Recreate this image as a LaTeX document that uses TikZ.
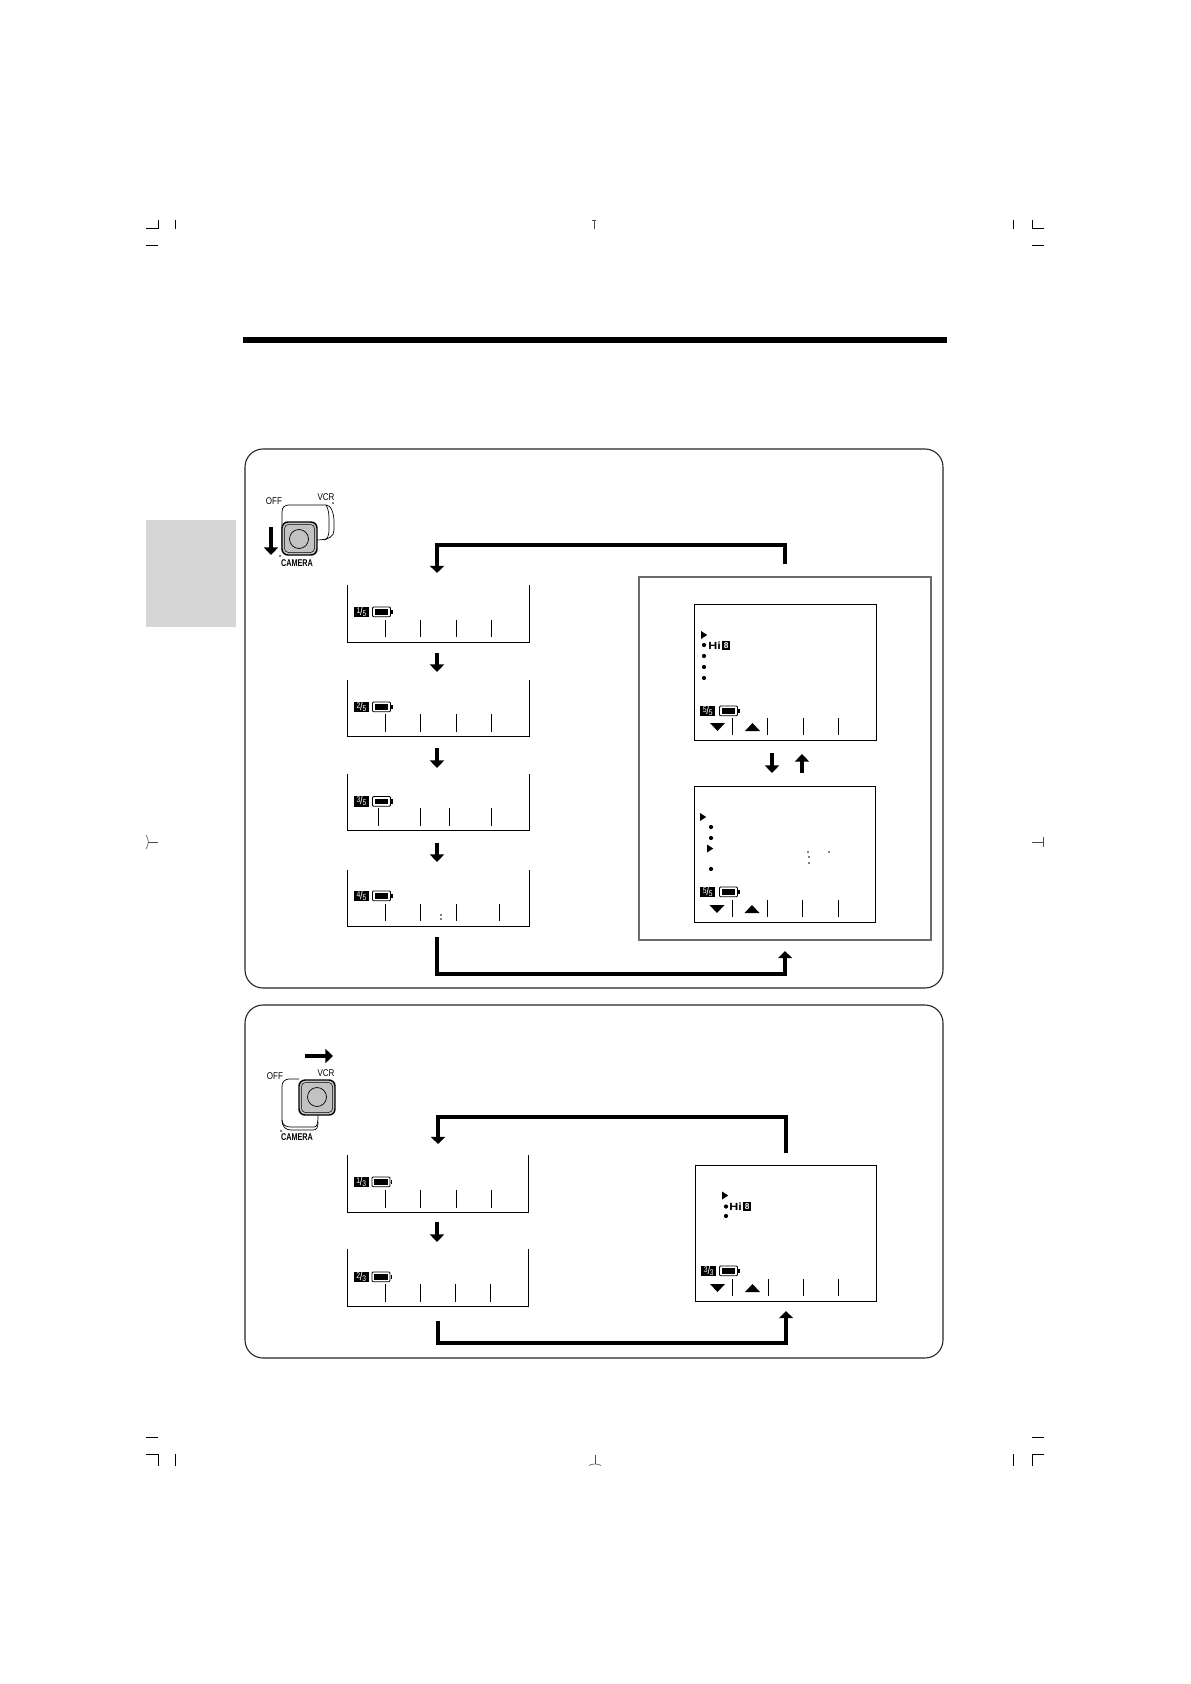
\documentclass[tikz,border=0pt]{standalone}
\usepackage{fontspec}
\usetikzlibrary{arrows.meta}
\setmainfont{Liberation Sans}
\newfontfamily\lab[FakeStretch=0.82]{Liberation Sans}
\newfontfamily\camf[FakeStretch=0.74]{Liberation Sans}
\newfontfamily\hif[FakeStretch=1.2]{Liberation Sans}
\definecolor{tabgray}{gray}{0.84}
\definecolor{btngray}{gray}{0.76}
\definecolor{framegray}{gray}{0.42}
\newcommand\frc[2]{\raisebox{0.8pt}{\fontsize{4.1}{4}\selectfont #1}\kern-0.1pt{\fontsize{6.2}{5}\selectfont/}\kern-0.2pt\raisebox{-0.7pt}{\fontsize{4.1}{4}\selectfont #2}}
\tikzset{
  flow/.style={line width=2.4pt,-{Triangle[length=3.8pt,width=7pt]}},
  routeline/.style={line width=2pt,miter limit=10,-{Triangle[length=3.6pt,width=7pt]}},
  scrline/.style={line width=0.5pt,line join=miter},
  tick/.style={line width=0.5pt},
  panel/.style={draw=black!85,line width=0.55pt,rounded corners=9pt,fill=white},
  crop/.style={line width=0.5pt},
  thincrop/.style={line width=0.3pt,draw=black!70},
  badgebox/.style={fill=black,text=white,inner sep=0pt,minimum width=7.4pt,minimum height=5.2pt,text height=3pt,text depth=0pt,font=\lab},
  swlabel/.style={inner sep=0pt,font=\lab\fontsize{4.9}{5}\selectfont},
  camlabel/.style={inner sep=0pt,font=\camf\bfseries\fontsize{4.9}{5}\selectfont},
  hitext/.style={inner sep=0pt,anchor=west,font=\hif\bfseries\fontsize{5.2}{5}\selectfont},
  eightbox/.style={fill=black,text=white,inner sep=0pt,minimum width=4.2pt,minimum height=4.4pt,font=\bfseries\fontsize{4.2}{4}\selectfont},
}
% open-topped LCD: name, left, top, right, bottom
\newcommand\opscreen[5]{%
  \coordinate (#1-tl) at (#2,#3); \coordinate (#1-bl) at (#2,#5);
  \coordinate (#1-br) at (#4,#5); \coordinate (#1-tr) at (#4,#3);
  \draw[scrline] (#1-tl) -- (#1-bl) -- (#1-br) -- (#1-tr);}
\newcommand\clscreen[5]{%
  \coordinate (#1-tl) at (#2,#3); \coordinate (#1-bl) at (#2,#5);
  \coordinate (#1-br) at (#4,#5); \coordinate (#1-tr) at (#4,#3);
  \draw[scrline] (#1-tl) -- (#1-bl) -- (#1-br) -- (#1-tr) -- cycle;}
\newcommand\ticks[3]{\foreach \tx in {#1} {\draw[tick] (\tx,#2) -- (\tx,#3);}}
% badge: name, left x, center y, numerator, denominator
\newcommand\badge[5]{\node[badgebox,anchor=west] (#1) at (#2,#3) {\frc{#4}{#5}};}
\newcommand\batt[2]{%
  \draw[line width=0.45pt,rounded corners=0.5pt] (#1+0.5,#2-5) rectangle (#1+18.5,#2+4.7);
  \fill (#1+2.8,#2-3) rectangle (#1+16.2,#2+2.7);
  \fill (#1+19,#2-2.2) rectangle (#1+20.5,#2+2);}
\newcommand\dotm[2]{\fill (#1,#2) circle (2.1);}
\newcommand\tridown[2]{\fill (#1-7.5,#2-4) -- (#1+7.5,#2-4) -- (#1,#2+4) -- cycle;}
\newcommand\triup[2]{\fill (#1-7.5,#2+4) -- (#1+7.5,#2+4) -- (#1,#2-4) -- cycle;}
\newcommand\triright[2]{\fill (#1-3,#2-4) -- (#1-3,#2+4) -- (#1+3.2,#2) -- cycle;}
\begin{document}
\begin{tikzpicture}[x=0.5pt,y=-0.5pt]
\useasboundingbox (0,0) rectangle (1190,1684);
\fill[white] (0,0) rectangle (1190,1684);

% crop marks
\draw[crop] (146,229) -- (158,229) -- (158,220); \draw[crop] (175,220) -- (175,229); \draw[crop] (146,246) -- (158,246);
\draw[crop] (1044,229) -- (1032,229) -- (1032,220); \draw[crop] (1013,220) -- (1013,229); \draw[crop] (1032,246) -- (1044,246);
\draw[crop] (146,1437) -- (158,1437); \draw[crop] (146,1454) -- (158,1454) -- (158,1466); \draw[crop] (175,1454) -- (175,1466);
\draw[crop] (1032,1437) -- (1044,1437); \draw[crop] (1044,1454) -- (1032,1454) -- (1032,1466); \draw[crop] (1013,1454) -- (1013,1466);
\draw[thincrop] (594,220) -- (594,229); \draw[thincrop] (592,220) -- (596,220);
\draw[thincrop] (595,1455) -- (595,1464); \draw[thincrop] (589,1465.5) .. controls (592,1463.5) and (598,1463.5) .. (601,1465.5);
\draw[thincrop] (146,835) .. controls (149,839) and (149,845) .. (146,849); \draw[thincrop] (148,842) -- (158,842);
\draw[thincrop] (1032,842) -- (1043,842); \draw[thincrop] (1043,837) -- (1043,847);

% title bar and side tab
\fill (243,337) rectangle (947,343.5);
\fill[tabgray] (146,520) rectangle (236,627);

% panels
\draw[panel] (245,449) rectangle (943,988);
\draw[panel] (245,1005) rectangle (943,1358);

% ---- switch, upper panel
\node[swlabel] (offA) at (274,501) {OFF};
\node[swlabel] (vcrA) at (326,497) {VCR};
\node[camlabel] (camA) at (297,563) {CAMERA};
\fill (333,503) circle (0.9); \fill (280,556) circle (0.9);
\draw[line width=0.35pt] (282,550) -- (282,512) .. controls (282,507) and (285,505) .. (289,505) -- (326,505) .. controls (331,505) and (334,513) .. (334,522) -- (334,530) .. controls (334,536) and (330,540) .. (316,540);
\draw[line width=0.35pt] (326,505) .. controls (329,510) and (329,515) .. (329,522) -- (329,530) .. controls (329,536) and (327,540) .. (324,540);
\draw[line width=0.7pt,fill=btngray,rounded corners=3pt] (282,522) rectangle (317,555);
\draw[line width=0.25pt,rounded corners=2pt] (284.5,524.5) rectangle (314.5,552.5);
\draw[line width=0.35pt] (299,539) circle (9.5);
\coordinate (swAs) at (271,527); \coordinate (swAe) at (271,555);
\draw[flow] (swAs) -- (swAe);

% ---- left column, upper panel
\opscreen{s1}{347.5}{585}{529}{642}
\ticks{385.3,420.3,456.3,491.3}{620}{637}
\badge{b1}{353.7}{612}{1}{5} \batt{372}{612}
\opscreen{s2}{347.5}{680}{529}{736}
\ticks{385.3,420.3,456.3,491.3}{714}{732}
\badge{b2}{353.7}{707}{2}{5} \batt{372}{707}
\opscreen{s3}{347.5}{774}{529}{830}
\ticks{378,420,449,491}{808}{826}
\badge{b3}{353.7}{801.5}{3}{5} \batt{372}{801.5}
\opscreen{s4}{347.5}{870}{529}{926}
\ticks{385,420,456,499}{904}{921}
\badge{b4}{353.7}{896}{4}{5} \batt{372}{896}
\fill (441,915) circle (0.9); \fill (441,919) circle (0.9);

\coordinate (a12s) at (437,653); \coordinate (a12e) at (437,672); \draw[flow] (a12s) -- (a12e);
\coordinate (a23s) at (437,748); \coordinate (a23e) at (437,768); \draw[flow] (a23s) -- (a23e);
\coordinate (a34s) at (437,843); \coordinate (a34e) at (437,862); \draw[flow] (a34s) -- (a34e);

% routes upper panel
\coordinate (rAs) at (785,564); \coordinate (rAc1) at (785,545); \coordinate (rAc2) at (437,545); \coordinate (rAe) at (437,573);
\draw[routeline] (rAs) -- (rAc1) -- (rAc2) -- (rAe);
\coordinate (rBs) at (437,937); \coordinate (rBc1) at (437,974); \coordinate (rBc2) at (785,974); \coordinate (rBe) at (785,951);
\draw[routeline] (rBs) -- (rBc1) -- (rBc2) -- (rBe);

% ---- grey frame
\draw[framegray,line width=1pt] (639,577) rectangle (931,940);
\clscreen{sa}{694}{604}{876.5}{740}
\ticks{732,767,803,838}{718}{735}
\triright{704}{635}
\dotm{704}{645} \dotm{704}{656} \dotm{704}{667} \dotm{704}{678}
\node[hitext] (hiA) at (708,645.5) {Hi};
\node[eightbox,anchor=west] (eightA) at (721.5,645.5) {8};
\badge{b5}{700}{711}{5}{5} \batt{719}{711}
\tridown{717.5}{727} \triup{752.5}{727}

\coordinate (adns) at (772,753); \coordinate (adne) at (772,773); \draw[flow] (adns) -- (adne);
\coordinate (aups) at (802,773); \coordinate (aupe) at (802,754); \draw[flow] (aups) -- (aupe);

\clscreen{sb}{694}{786.5}{875}{922}
\ticks{732,767,802,838}{900}{917}
\triright{703}{817} \dotm{711}{827} \dotm{711}{838} \triright{710}{848.5} \dotm{711}{869}
\fill (808,852) circle (0.8); \fill (809,857) circle (0.8); \fill (809,863) circle (0.8); \fill (829,852) circle (0.8);
\badge{b6}{700}{892}{5}{5} \batt{719}{892}
\tridown{717}{909} \triup{752}{909}

% ---- switch, lower panel
\node[swlabel] (offB) at (275,1076) {OFF};
\node[swlabel] (vcrB) at (326,1073) {VCR};
\node[camlabel] (camB) at (297,1137) {CAMERA};
\fill (281,1131) circle (0.9);
\draw[line width=0.35pt] (299,1079) -- (289,1079) .. controls (285,1079) and (282,1082) .. (282,1086) -- (282,1120) .. controls (282,1125) and (286,1127) .. (291,1127) -- (314,1127) .. controls (317,1127) and (318,1124) .. (318,1115);
\draw[line width=0.35pt] (282,1120) .. controls (282,1127) and (286,1130) .. (291,1130) -- (313,1130) .. controls (317,1130) and (318,1127) .. (318,1122);
\draw[line width=0.7pt,fill=btngray,rounded corners=3pt] (299,1080) rectangle (335,1115);
\draw[line width=0.25pt,rounded corners=2pt] (301.5,1082.5) rectangle (332.5,1112.5);
\draw[line width=0.35pt] (317,1097) circle (9.5);
\coordinate (swBs) at (305,1056); \coordinate (swBe) at (333,1056);
\draw[flow] (swBs) -- (swBe);

% ---- left column, lower panel
\opscreen{s5}{347.5}{1155}{528.5}{1212}
\ticks{385.3,420.3,456.3,491.3}{1190}{1208}
\badge{b7}{353.5}{1182}{1}{3} \batt{371.5}{1182}
\opscreen{s6}{347.5}{1249}{528.5}{1306}
\ticks{385.3,420.3,455.3,490.3}{1284}{1302}
\badge{b8}{353.5}{1277}{2}{3} \batt{371.5}{1277}
\coordinate (a56s) at (437,1222); \coordinate (a56e) at (437,1242); \draw[flow] (a56s) -- (a56e);

\coordinate (rCs) at (786,1153); \coordinate (rCc1) at (786,1117); \coordinate (rCc2) at (438,1117); \coordinate (rCe) at (438,1144);
\draw[routeline] (rCs) -- (rCc1) -- (rCc2) -- (rCe);
\coordinate (rDs) at (438,1321); \coordinate (rDc1) at (438,1343); \coordinate (rDc2) at (786,1343); \coordinate (rDe) at (786,1311);
\draw[routeline] (rDs) -- (rDc1) -- (rDc2) -- (rDe);

% ---- right screen, lower panel
\clscreen{sc}{695}{1165.5}{876.5}{1301.5}
\ticks{732,768,803,838.5}{1279}{1296}
\triright{725}{1195.5}
\dotm{726}{1206.5} \dotm{726}{1216}
\node[hitext] (hiB) at (729,1206.5) {Hi};
\node[eightbox,anchor=west] (eightB) at (742.5,1206.5) {8};
\badge{b9}{701}{1271}{3}{3} \batt{719}{1271}
\tridown{717.5}{1288} \triup{752.5}{1288}
\end{tikzpicture}
\end{document}
